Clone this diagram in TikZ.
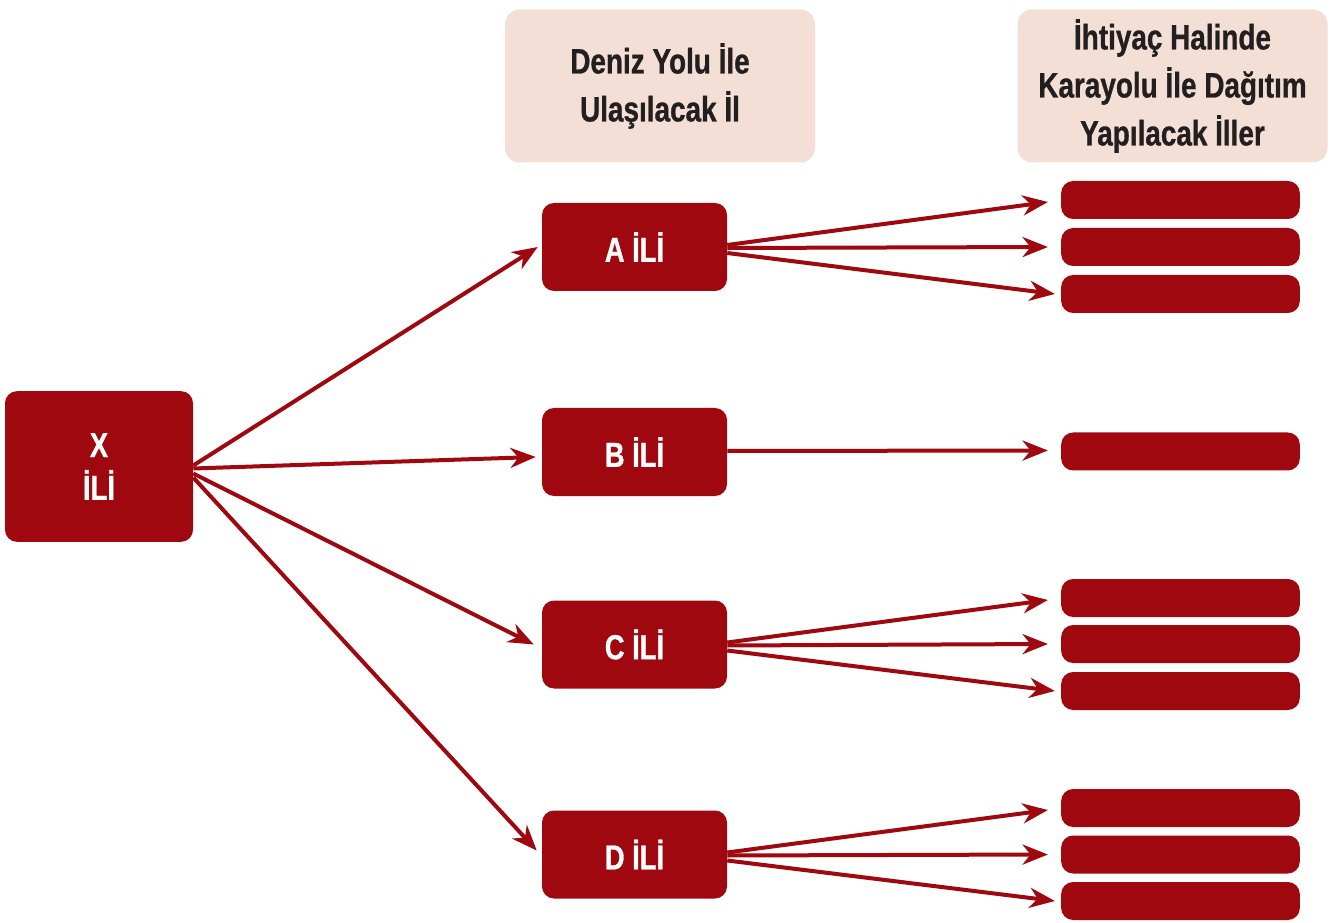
\documentclass[tikz,border=0pt]{standalone}
\usepackage{fontspec}
\setmainfont{Liberation Sans}[FakeStretch=0.79, BoldFeatures={FakeBold=0.8}]
\usetikzlibrary{arrows.meta,calc}
\definecolor{ilred}{HTML}{A00810}
\definecolor{headfill}{HTML}{F3DFD6}
\definecolor{headtext}{HTML}{231F20}
\tikzset{
  headbox/.style={fill=headfill, rounded corners=11pt, minimum width=232.5pt, minimum height=114.75pt,
    align=center, text=headtext, font=\bfseries\fontsize{26.5}{36}\selectfont, inner sep=0pt},
  ilbox/.style={fill=ilred, rounded corners=9pt, minimum width=138.75pt, minimum height=66pt,
    text=white, font=\bfseries\fontsize{26}{36}\selectfont, inner sep=0pt, align=center},
  bar/.style={fill=ilred, rounded corners=9pt, minimum width=179pt, minimum height=28.5pt, inner sep=0pt},
  arr/.style={draw=ilred, line width=3pt, -{Stealth[length=19pt, width=15pt, inset=6pt]}},
}
\begin{document}
\begin{tikzpicture}[x=0.75pt, y=-0.75pt]
\useasboundingbox (0,0) rectangle (1339,923);
% column headings
\node[headbox] (h1) at (660,86) {Deniz Yolu İle\\Ulaşılacak İl};
\node[headbox] (h2) at (1172.5,86) {İhtiyaç Halinde\\Karayolu İle Dağıtım\\Yapılacak İller};
% source province
\node[ilbox, minimum width=141pt, minimum height=113pt] (X) at (99,466.5) {X\\[-4pt]İLİ};
% provinces reached by sea
\node[ilbox] (A) at (634.5,247) {A İLİ};
\node[ilbox] (B) at (634.5,452) {B İLİ};
\node[ilbox] (C) at (634.5,644.5) {C İLİ};
\node[ilbox] (D) at (634.5,854.5) {D İLİ};
% provinces served by road
\node[bar] (a1) at (1180.5,200) {};
\node[bar] (a2) at (1180.5,247) {};
\node[bar] (a3) at (1180.5,294) {};
\node[bar] (b1) at (1180.5,451.5) {};
\node[bar] (c1) at (1180.5,598) {};
\node[bar] (c2) at (1180.5,644) {};
\node[bar] (c3) at (1180.5,691) {};
\node[bar] (d1) at (1180.5,808) {};
\node[bar] (d2) at (1180.5,854.5) {};
\node[bar] (d3) at (1180.5,901) {};
% sea routes
\draw[arr] ($(X.east)+(0,-1)$) -- ($(A.west)+(-4,0)$);
\draw[arr] ($(X.east)+(0,2)$) -- ($(B.west)+(-6,5)$);
\draw[arr] ($(X.east)+(0,7)$) -- ($(C.west)+(-8,0)$);
\draw[arr] ($(X.east)+(0,11)$) -- ($(D.west)+(-5,-4)$);
% road routes
\foreach \s/\t in {A/a, C/c, D/d}{
  \draw[arr] ($(\s.east)+(0,-2)$) -- ($(\t1.west)+(-13,2)$);
  \draw[arr] ($(\s.east)+(0,1)$) -- ($(\t2.west)+(-13,0)$);
  \draw[arr] ($(\s.east)+(0,6)$) -- ($(\t3.west)+(-6,0)$);
}
\draw[arr] ($(B.east)+(0,-1)$) -- ($(b1.west)+(-13,-1)$);
\end{tikzpicture}
\end{document}
